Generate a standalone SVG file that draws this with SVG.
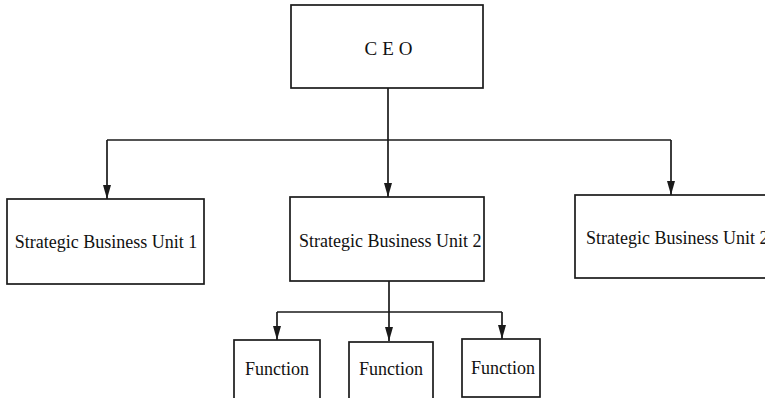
<svg xmlns="http://www.w3.org/2000/svg" width="765" height="398" viewBox="0 0 765 398">
  <style>
    .box { fill: #ffffff; stroke: #1a1a1a; stroke-width: 1.7; }
    .lbl { font-family: "Liberation Serif", "Times New Roman", serif; font-size: 18px; fill: #111111; }
    .ceo { font-size: 19px; letter-spacing: 5px; }
    .wire { fill: none; stroke: #1a1a1a; stroke-width: 1.7; }
  </style>
  <defs>
    <marker id="head" viewBox="0 0 14 8" refX="14" refY="4" markerWidth="14" markerHeight="8" markerUnits="userSpaceOnUse" orient="auto">
      <path d="M0,0 L14,4 L0,8 Z" fill="#1a1a1a"/>
    </marker>
  </defs>
  <rect width="765" height="398" fill="#ffffff"/>

  <g id="connectors">
    <!-- CEO to business units -->
    <line class="wire" x1="388" y1="88" x2="388" y2="197" marker-end="url(#head)"/>
    <polyline class="wire" points="107,140 671,140"/>
    <line class="wire" x1="107" y1="140" x2="107" y2="199" marker-end="url(#head)"/>
    <line class="wire" x1="671" y1="140" x2="671" y2="195" marker-end="url(#head)"/>
    <!-- business unit 2 to functions -->
    <line class="wire" x1="389" y1="281" x2="389" y2="341" marker-end="url(#head)"/>
    <polyline class="wire" points="277,312 502,312"/>
    <line class="wire" x1="277" y1="312" x2="277" y2="340" marker-end="url(#head)"/>
    <line class="wire" x1="502" y1="312" x2="502" y2="339" marker-end="url(#head)"/>
  </g>

  <g id="ceo">
    <rect class="box" x="291" y="5" width="192" height="83"/>
    <text class="lbl ceo" x="391" y="55" text-anchor="middle">CEO</text>
  </g>

  <g id="sbu1">
    <rect class="box" x="7" y="199" width="197" height="85"/>
    <text class="lbl" x="106" y="248" text-anchor="middle">Strategic Business Unit 1</text>
  </g>

  <g id="sbu2">
    <rect class="box" x="290" y="197" width="194" height="84"/>
    <text class="lbl" x="299" y="247">Strategic Business Unit 2</text>
  </g>

  <g id="sbu3">
    <rect class="box" x="575" y="195" width="200" height="83"/>
    <text class="lbl" x="586" y="244">Strategic Business Unit 2</text>
  </g>

  <g id="function1">
    <rect class="box" x="234" y="340" width="86" height="70"/>
    <text class="lbl" x="277" y="375" text-anchor="middle">Function</text>
  </g>

  <g id="function2">
    <rect class="box" x="349" y="342" width="84" height="70"/>
    <text class="lbl" x="391" y="375" text-anchor="middle">Function</text>
  </g>

  <g id="function3">
    <rect class="box" x="462" y="339" width="78" height="58"/>
    <text class="lbl" x="503" y="374" text-anchor="middle">Function</text>
  </g>
</svg>
